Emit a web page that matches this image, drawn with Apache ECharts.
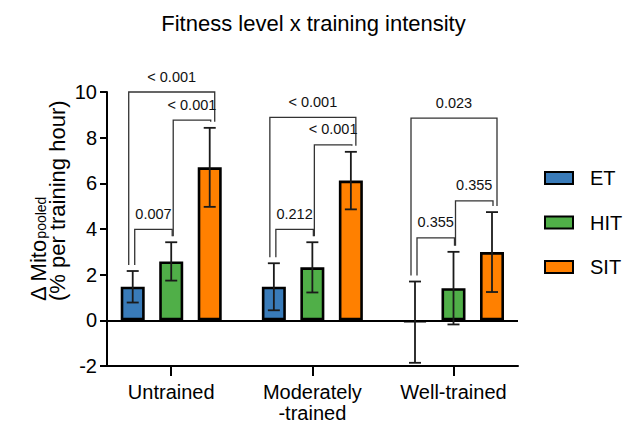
<!DOCTYPE html>
<html>
<head>
<meta charset="utf-8">
<script src="https://cdn.jsdelivr.net/npm/echarts@6/dist/echarts.min.js"></script>
<style>
  html, body { margin: 0; padding: 0; background: #fff; }
  #chart { width: 627px; height: 424px; }
</style>
</head>
<body>
<div id="chart"></div>
<script>
// Fitness groups on the x axis and the training types within each group
const categories = ['Untrained', 'Moderately\n-trained', 'Well-trained'];
const groupPositions = [0, 1, 2];
const trainingTypes = ['ET', 'HIT', 'SIT'];

// Mean change per training hour (%) and error (±) for each training type
const etMean = [1.47, 1.47, -0.08];
const etErr = [0.69, 1.03, 1.78];
const hitMean = [2.58, 2.32, 1.41];
const hitErr = [0.84, 1.10, 1.59];
const sitMean = [6.70, 6.12, 2.99];
const sitErr = [1.73, 1.26, 1.75];

// Pairwise comparisons: group, first bar, second bar, bracket height, p value
const bracketGroup = [0, 0, 0, 1, 1, 1, 2, 2, 2];
const bracketFrom = [0, 1, 0, 0, 1, 0, 0, 1, 0];
const bracketTo = [2, 2, 1, 2, 2, 1, 2, 2, 1];
const bracketLevel = [10.0, 8.77, 3.98, 8.89, 7.68, 3.98, 8.86, 5.23, 3.61];
const bracketP = ['< 0.001', '< 0.001', '0.007', '< 0.001', '< 0.001', '0.212', '0.023', '0.355', '0.355'];

// Y axis ticks
const yTicks = { min: -2, max: 10, step: 2 };

const means = [etMean, hitMean, sitMean];
const errs = [etErr, hitErr, sitErr];
const colors = ['#397bb9', '#50af48', '#ff8000'];

const FONT = "'Liberation Sans', Arial, sans-serif";
const BAR_W = 24;
const BAR_GAP = 14.5;
const STEP = BAR_W + BAR_GAP;

const chart = echarts.init(document.getElementById('chart'), null, { renderer: 'svg' });

function barX(api, group, idx) {
  return api.coord([groupPositions[group], 0])[0] + (idx - 1) * STEP;
}

const barSeries = trainingTypes.map((name, s) => ({
  name: name,
  type: 'bar',
  barWidth: BAR_W,
  barGap: (BAR_GAP / BAR_W * 100) + '%',
  itemStyle: { color: colors[s], borderColor: '#000', borderWidth: 2.6 },
  data: groupPositions.map((g, i) => [g, means[s][i]]),
  z: 2,
  markLine: s === 0 ? {
    silent: true,
    symbol: ['none', 'none'],
    label: { show: false },
    lineStyle: { color: '#000', width: 2, type: 'solid' },
    data: [{ yAxis: 0 }]
  } : undefined
}));

// Error bars with caps, drawn on top of the bars
const errData = [];
for (let s = 0; s < 3; s++) {
  for (let i = 0; i < 3; i++) errData.push([i, s, means[s][i] - errs[s][i], means[s][i] + errs[s][i]]);
}
const errorSeries = {
  type: 'custom',
  name: 'error',
  z: 5,
  silent: true,
  data: errData,
  renderItem: function (params, api) {
    const g = api.value(0), s = api.value(1);
    const x = barX(api, g, s);
    const yLo = api.coord([0, api.value(2)])[1];
    const yHi = api.coord([0, api.value(3)])[1];
    const cap = 6;
    const style = { stroke: '#1a1a1a', lineWidth: 1.8, fill: null };
    return {
      type: 'group',
      children: [
        { type: 'line', shape: { x1: x, y1: yLo, x2: x, y2: yHi }, style: style },
        { type: 'line', shape: { x1: x - cap, y1: yHi, x2: x + cap, y2: yHi }, style: style },
        { type: 'line', shape: { x1: x - cap, y1: yLo, x2: x + cap, y2: yLo }, style: style }
      ]
    };
  }
};

// Significance brackets with p-value labels
const bracketData = bracketGroup.map((g, k) => [g, bracketFrom[k], bracketTo[k], bracketLevel[k], k]);
const bracketSeries = {
  type: 'custom',
  name: 'brackets',
  z: 6,
  silent: true,
  data: bracketData,
  renderItem: function (params, api) {
    const g = api.value(0), a = api.value(1), b = api.value(2);
    const k = api.value(4);
    const spansAll = (b - a) === 2;
    const xl = barX(api, g, a) + (spansAll ? -4 : 2);
    const xr = barX(api, g, b) + (spansAll ? 5 : 1);
    const yTop = api.coord([0, api.value(3)])[1];
    const legGap = 6;
    const yl = api.coord([0, means[a][g] + errs[a][g]])[1] - legGap;
    const yr = api.coord([0, means[b][g] + errs[b][g]])[1] - legGap;
    return {
      type: 'group',
      children: [
        {
          type: 'polyline',
          shape: { points: [[xl, yl], [xl, yTop], [xr, yTop], [xr, yr]] },
          style: { stroke: '#333', lineWidth: 1.3, fill: null }
        },
        {
          type: 'text',
          style: {
            text: bracketP[k],
            x: (xl + xr) / 2,
            y: yTop - 8,
            align: 'center',
            verticalAlign: 'bottom',
            fontSize: 14.5,
            fontFamily: FONT,
            fill: '#111'
          }
        }
      ]
    };
  }
};

chart.setOption({
  animation: false,
  textStyle: { fontFamily: FONT },
  title: {
    text: 'Fitness level x training intensity',
    left: 'center',
    top: 7,
    textStyle: { fontSize: 22, fontWeight: 'normal', color: '#000', fontFamily: FONT }
  },
  legend: {
    orient: 'vertical',
    left: 544,
    top: 168,
    padding: 0,
    itemWidth: 28,
    itemHeight: 12,
    itemGap: 24.5,
    icon: 'rect',
    data: trainingTypes,
    itemStyle: { borderColor: '#000', borderWidth: 2 },
    textStyle: { fontSize: 20, color: '#000', fontFamily: FONT, padding: [0, 0, 0, 12] }
  },
  grid: { left: 107, right: 109, top: 92, bottom: 58, containLabel: false, outerBoundsMode: 'none' },
  xAxis: {
    type: 'value',
    min: -0.455,
    max: 2.457,
    axisLine: { onZero: false, lineStyle: { color: '#000', width: 2 } },
    axisTick: { show: true, customValues: groupPositions, length: 10, lineStyle: { color: '#000', width: 2 } },
    axisLabel: {
      customValues: groupPositions,
      formatter: v => categories[Math.round(v)],
      fontSize: 20,
      lineHeight: 21,
      color: '#000',
      margin: 15,
      fontFamily: FONT
    },
    splitLine: { show: false }
  },
  yAxis: {
    type: 'value',
    min: yTicks.min,
    max: yTicks.max,
    interval: yTicks.step,
    axisLine: { show: true, onZero: false, lineStyle: { color: '#000', width: 2 } },
    axisTick: { show: true, length: 7, lineStyle: { color: '#000', width: 2 } },
    axisLabel: { fontSize: 20, color: '#000', margin: 10, fontFamily: FONT },
    splitLine: { show: false }
  },
  graphic: [{
    type: 'text',
    x: 29,
    y: 301,
    rotation: Math.PI / 2,
    style: {
      text: '{m|Δ Mito}{s|pooled}\n{m|(% per training hour)}',
      align: 'left',
      verticalAlign: 'top',
      rich: {
        m: { fontSize: 22, lineHeight: 19, fontFamily: FONT, fill: '#000' },
        s: { fontSize: 14, lineHeight: 19, fontFamily: FONT, fill: '#000', verticalAlign: 'bottom', padding: [6, 0, 0, 0] }
      }
    }
  }],
  series: barSeries.concat([errorSeries, bracketSeries])
});
</script>
</body>
</html>
